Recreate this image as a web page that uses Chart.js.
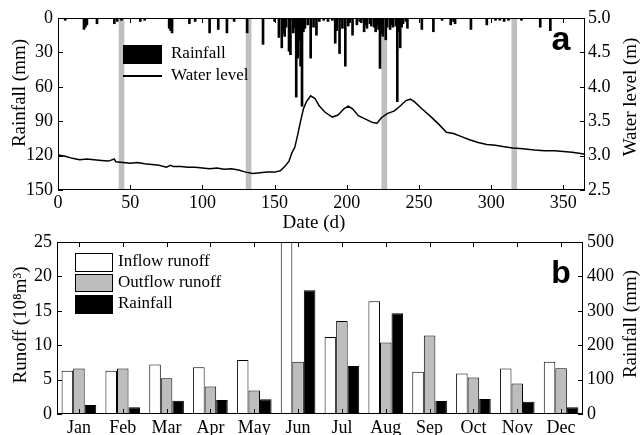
<!DOCTYPE html>
<html>
<head>
<meta charset="utf-8">
<script src="https://cdn.jsdelivr.net/npm/chart.js@4/dist/chart.umd.min.js"></script>
<style>
  html, body { margin: 0; padding: 0; background: #fff; }
  #wrap { position: relative; width: 640px; height: 435px; overflow: hidden; }
  canvas { position: absolute; left: 0; }
  #top-canvas { top: 0; }
  #bot-canvas { top: 220px; }
</style>
</head>
<body>
<div id="wrap">
  <canvas id="top-canvas" width="640" height="240"></canvas>
  <canvas id="bot-canvas" width="640" height="215"></canvas>
</div>
<script>
const SERIF = '"Liberation Serif", "Times New Roman", serif';

// ---- panel a: daily rainfall (day, mm) ----
const rainDays = [5, 18, 19, 20, 27, 39, 41, 44, 57, 60, 77, 78, 79, 91, 95, 105, 111, 117, 122, 131,
  142, 150, 153, 155, 156, 157, 158, 160, 161, 163, 164, 165, 166, 167, 168, 169, 170, 171, 173, 175,
  177, 179, 181, 184, 187, 190, 192, 193, 195, 197, 199, 201, 202, 204, 207, 209, 210, 212, 213, 214,
  216, 217, 219, 220, 221, 222, 223, 224, 225, 227, 228, 230, 231, 232, 234, 235, 236, 237, 238, 239,
  241, 242, 252, 260, 266, 272, 274, 275, 286, 297, 303, 306, 309, 312, 321, 334, 341];
const rainMm = [2, 10, 8, 6, 5, 5, 3, 2, 3, 2, 9, 11, 13, 5, 3, 13, 10, 13, 3, 13,
  23, 3, 17, 26, 13, 16, 8, 29, 32, 13, 8, 69, 35, 20, 42, 77, 12, 9, 6, 35,
  8, 15, 3, 2, 3, 2, 22, 11, 31, 9, 42, 7, 4, 15, 6, 3, 4, 12, 6, 9,
  5, 7, 8, 12, 6, 10, 44, 14, 16, 19, 8, 10, 6, 8, 7, 73, 12, 26, 8, 5,
  3, 9, 10, 12, 2, 6, 3, 5, 10, 6, 2, 2, 3, 2, 2, 8, 11];

// ---- panel a: water level (day, m) ----
const levelDays = [0, 5, 10, 15, 20, 25, 30, 35, 39, 40, 45, 50, 55, 60, 65, 70, 75, 78, 80, 85,
  90, 95, 100, 105, 110, 115, 120, 125, 130, 135, 140, 145, 150, 154, 157, 160, 162, 164, 166, 168,
  170, 172, 175, 178, 181, 185, 190, 194, 198, 201, 204, 208, 213, 218, 221, 224, 228, 233, 237, 241,
  244, 247, 252, 258, 264, 269, 274, 279, 285, 291, 297, 303, 309, 315, 322, 330, 337, 344, 350, 356,
  362, 365];
const levels = [3.01, 2.99, 2.96, 2.94, 2.95, 2.94, 2.93, 2.92, 2.95, 2.91, 2.90, 2.89, 2.90, 2.88, 2.87, 2.86, 2.83, 2.86, 2.84, 2.84,
  2.83, 2.83, 2.82, 2.81, 2.82, 2.80, 2.81, 2.79, 2.76, 2.74, 2.75, 2.76, 2.76, 2.78, 2.84, 2.92, 3.04, 3.12, 3.30, 3.50,
  3.68, 3.78, 3.87, 3.83, 3.72, 3.63, 3.56, 3.59, 3.68, 3.72, 3.68, 3.58, 3.53, 3.48, 3.47, 3.55, 3.61, 3.65, 3.72, 3.80,
  3.82, 3.78, 3.68, 3.57, 3.45, 3.34, 3.32, 3.28, 3.23, 3.19, 3.16, 3.15, 3.13, 3.11, 3.10, 3.08, 3.07, 3.07, 3.06, 3.05,
  3.03, 3.02];

// sampling dates marked with grey bands
const bandDays = [44, 132, 226, 316];
const dayTicks = [0, 50, 100, 150, 200, 250, 300, 350];

// ---- panel b: monthly values ----
const months = ['Jan', 'Feb', 'Mar', 'Apr', 'May', 'Jun', 'Jul', 'Aug', 'Sep', 'Oct', 'Nov', 'Dec'];
const inflow  = [6.3, 6.3, 7.2, 6.8, 7.85, 26.5, 11.2, 16.4, 6.15, 5.9, 6.6, 7.6];
const outflow = [6.6, 6.6, 5.2, 4.0, 3.4, 7.6, 13.5, 10.4, 11.4, 5.3, 4.45, 6.65];
const monthRain = [26, 19.5, 38.7, 40.7, 42.6, 360, 139.5, 292.7, 37.8, 43.6, 35.8, 19.4];

// frame, inward ticks, legend boxes and free text
const framePlugin = {
  id: 'frame',
  afterDatasetsDraw(chart, args, opts) {
    const { ctx, chartArea: a } = chart;
    const len = 5;
    ctx.save();
    ctx.strokeStyle = '#000';
    ctx.lineWidth = 1;
    ctx.beginPath();
    const s = chart.scales;
    s.x.ticks.forEach((t, i) => {
      const x = Math.round(s.x.getPixelForTick(i)) + 0.5;
      ctx.moveTo(x, a.bottom); ctx.lineTo(x, a.bottom - len);
      ctx.moveTo(x, a.top); ctx.lineTo(x, a.top + len);
    });
    s.y.ticks.forEach((t, i) => {
      const y = Math.round(s.y.getPixelForTick(i)) + 0.5;
      ctx.moveTo(a.left, y); ctx.lineTo(a.left + len, y);
    });
    s.y1.ticks.forEach((t, i) => {
      const y = Math.round(s.y1.getPixelForTick(i)) + 0.5;
      ctx.moveTo(a.right, y); ctx.lineTo(a.right - len, y);
    });
    ctx.stroke();
    ctx.strokeRect(a.left + 0.5, a.top + 0.5, a.width - 1, a.height - 1);

    (opts.boxes || []).forEach(b => {
      if (b.fill) { ctx.fillStyle = b.fill; ctx.fillRect(b.x, b.y, b.w, b.h); }
      if (b.stroke) { ctx.strokeStyle = b.stroke; ctx.lineWidth = 1; ctx.strokeRect(b.x + 0.5, b.y + 0.5, b.w - 1, b.h - 1); }
    });
    (opts.lines || []).forEach(l => {
      ctx.strokeStyle = '#000'; ctx.lineWidth = l.w;
      ctx.beginPath(); ctx.moveTo(l.x1, l.y); ctx.lineTo(l.x2, l.y); ctx.stroke();
    });
    (opts.texts || []).forEach(t => {
      ctx.save();
      ctx.translate(t.x, t.y);
      if (t.rot) ctx.rotate(t.rot);
      ctx.font = t.font;
      ctx.fillStyle = '#000';
      ctx.textAlign = t.align || 'center';
      ctx.textBaseline = t.base || 'middle';
      ctx.fillText(t.text, 0, 0);
      ctx.restore();
    });
    ctx.restore();
  }
};

const tickFont = { family: SERIF, size: 18 };
const txt = (size, bold) => `${bold ? 'bold ' : ''}${size}px ${SERIF}`;
const noGrid = { display: false, drawTicks: false };
const noBorder = { display: false };

// ---------- panel a ----------
new Chart(document.getElementById('top-canvas'), {
  type: 'bar',
  data: {
    datasets: [
      {
        type: 'line',
        label: 'Water level',
        data: levelDays.map((d, i) => ({ x: d, y: levels[i] })),
        yAxisID: 'y1',
        borderColor: '#000',
        borderWidth: 1.5,
        pointRadius: 0,
        tension: 0,
        order: 0,
      },
      {
        label: 'Rainfall',
        data: rainDays.map((d, i) => ({ x: d, y: rainMm[i] })),
        yAxisID: 'y',
        backgroundColor: '#000',
        barThickness: 2,
        grouped: false,
        order: 1,
      },
      {
        label: 'bands',
        data: bandDays.map(d => ({ x: d, y: 150 })),
        yAxisID: 'y',
        backgroundColor: '#bfbfbf',
        barThickness: 5,
        grouped: false,
        order: 2,
      },
    ],
  },
  options: {
    responsive: false,
    animation: false,
    devicePixelRatio: 1,
    layout: { padding: { top: 18, left: 0, right: 0, bottom: 0 } },
    plugins: {
      legend: { display: false },
      tooltip: { enabled: false },
      frame: {
        boxes: [{ x: 123, y: 45, w: 39, h: 19, fill: '#000' }],
        lines: [{ x1: 123, x2: 162, y: 76, w: 2 }],
        texts: [
          { text: 'Rainfall', x: 171, y: 54, font: txt(17), align: 'left' },
          { text: 'Water level', x: 171, y: 76, font: txt(17), align: 'left' },
          { text: 'a', x: 561, y: 41, font: 'bold 34px "Liberation Sans", Arial, sans-serif' },
          { text: 'Date (d)', x: 314, y: 223, font: txt(19) },
          { text: 'Rainfall (mm)', x: 20, y: 93, font: txt(19), rot: -Math.PI / 2 },
          { text: 'Water level (m)', x: 631, y: 97, font: txt(19), rot: -Math.PI / 2 },
        ],
      },
    },
    scales: {
      x: {
        type: 'linear',
        min: 0,
        max: 365,
        offset: false,
        grid: noGrid,
        border: noBorder,
        ticks: { font: tickFont, color: '#000', padding: 2, maxRotation: 0, autoSkip: false },
        afterBuildTicks: s => { s.ticks = dayTicks.map(v => ({ value: v })); },
        afterFit: s => { s.height = 50; },
      },
      y: {
        position: 'left',
        reverse: true,
        min: 0,
        max: 150,
        grid: noGrid,
        border: noBorder,
        ticks: { stepSize: 30, font: tickFont, color: '#000', padding: 5 },
        afterFit: s => { s.width = 58; },
      },
      y1: {
        position: 'right',
        min: 2.5,
        max: 5,
        grid: noGrid,
        border: noBorder,
        ticks: { stepSize: 0.5, font: tickFont, color: '#000', padding: 3, callback: v => v.toFixed(1) },
        afterFit: s => { s.width = 55; },
      },
    },
  },
  plugins: [framePlugin],
});

// ---------- panel b ----------
new Chart(document.getElementById('bot-canvas'), {
  type: 'bar',
  data: {
    labels: months,
    datasets: [
      { label: 'Inflow runoff', data: inflow, yAxisID: 'y', backgroundColor: '#fff', borderColor: '#000', borderWidth: 1 },
      { label: 'Outflow runoff', data: outflow, yAxisID: 'y', backgroundColor: '#bdbdbd', borderColor: '#000', borderWidth: 1 },
      { label: 'Rainfall', data: monthRain, yAxisID: 'y1', backgroundColor: '#000', borderColor: '#000', borderWidth: 1 },
    ],
  },
  options: {
    responsive: false,
    animation: false,
    devicePixelRatio: 1,
    categoryPercentage: 0.79,
    barPercentage: 1.0,
    layout: { padding: { top: 22, left: 0, right: 0, bottom: 0 } },
    plugins: {
      legend: { display: false },
      tooltip: { enabled: false },
      frame: {
        boxes: [
          { x: 75, y: 33, w: 38, h: 19, fill: '#fff', stroke: '#000' },
          { x: 75, y: 54, w: 38, h: 18, fill: '#bdbdbd', stroke: '#000' },
          { x: 75, y: 75, w: 38, h: 19, fill: '#000' },
        ],
        texts: [
          { text: 'Inflow runoff', x: 118, y: 42, font: txt(17), align: 'left' },
          { text: 'Outflow runoff', x: 118, y: 63, font: txt(17), align: 'left' },
          { text: 'Rainfall', x: 118, y: 84, font: txt(17), align: 'left' },
          { text: 'b', x: 561, y: 63, font: 'bold 32px "Liberation Sans", Arial, sans-serif', base: 'alphabetic' },
          { text: 'Runoff (10\u2078m\u00b3)', x: 21, y: 105, font: txt(19), rot: -Math.PI / 2 },
          { text: 'Rainfall (mm)', x: 631, y: 104, font: txt(19), rot: -Math.PI / 2 },
        ],
      },
    },
    scales: {
      x: {
        grid: noGrid,
        border: noBorder,
        ticks: { font: tickFont, color: '#000', padding: 3, maxRotation: 0 },
        afterFit: s => { s.height = 21; },
      },
      y: {
        position: 'left',
        min: 0,
        max: 25,
        grid: noGrid,
        border: noBorder,
        ticks: { stepSize: 5, font: tickFont, color: '#000', padding: 5 },
        afterFit: s => { s.width = 57; },
      },
      y1: {
        position: 'right',
        min: 0,
        max: 500,
        grid: noGrid,
        border: noBorder,
        ticks: { stepSize: 100, font: tickFont, color: '#000', padding: 4 },
        afterFit: s => { s.width = 57; },
      },
    },
  },
  plugins: [framePlugin],
});
</script>
</body>
</html>
